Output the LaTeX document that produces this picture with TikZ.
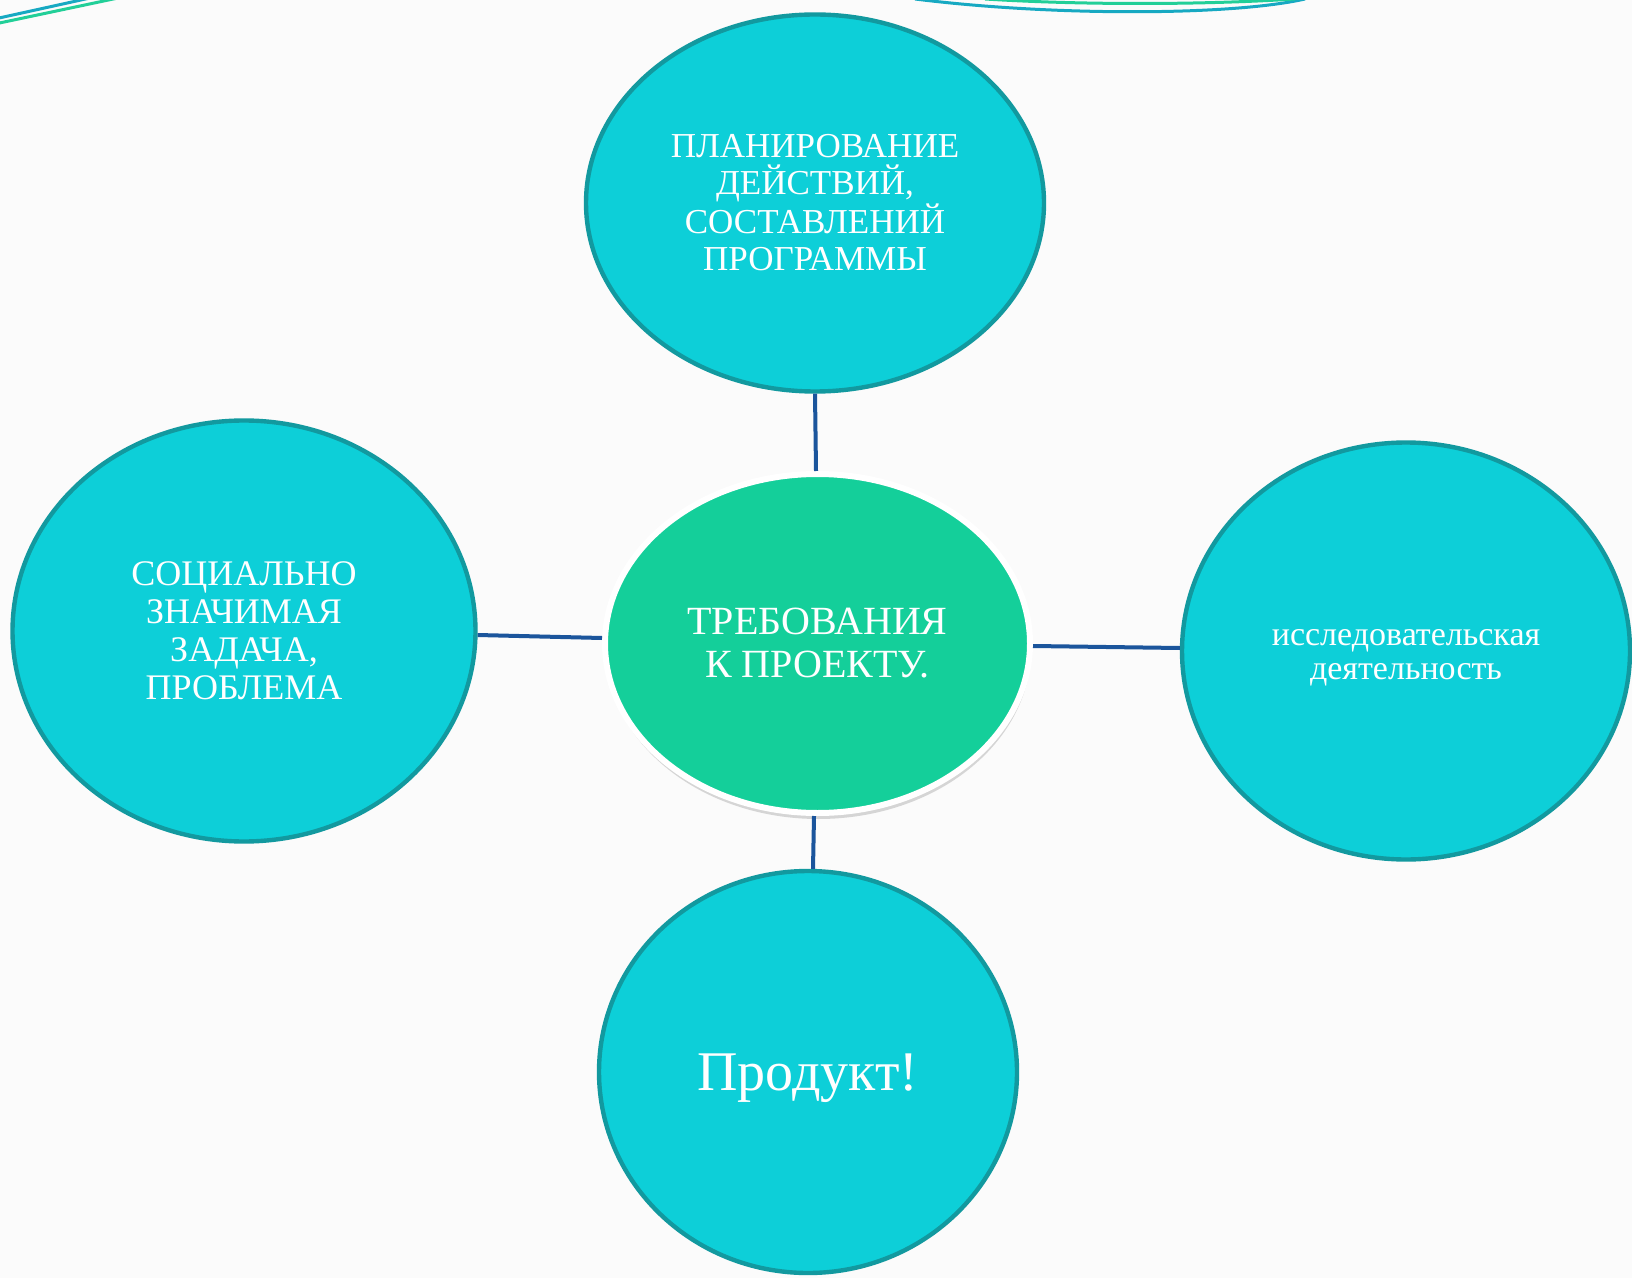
\documentclass[tikz,border=0pt]{standalone}
\usepackage{fontspec}
\setmainfont{Liberation Serif}
\usetikzlibrary{shapes.geometric,shadows}
\definecolor{bubble}{HTML}{0DCFD8}
\definecolor{bubbleedge}{HTML}{12999F}
\definecolor{hubfill}{HTML}{14CF9A}
\definecolor{linkblue}{HTML}{1B559C}
\definecolor{decoteal}{HTML}{17A9C2}
\definecolor{decogreen}{HTML}{22CF98}
\definecolor{paper}{HTML}{FBFBFB}
\begin{document}
\begin{tikzpicture}[x=0.5pt,y=-0.5pt,
  bubblenode/.style={ellipse, draw=bubbleedge, line width=2.2pt, fill=bubble,
    text=white, align=center, inner sep=0pt},
  hubnode/.style={ellipse, draw=white, line width=3pt, fill=hubfill,
    text=white, align=center, inner sep=0pt,
    drop shadow={shadow xshift=0.5pt, shadow yshift=-3pt, fill=black!50, opacity=0.3}},
  linkline/.style={draw=linkblue, line width=2pt},
  decoline/.style={line width=1.5pt}]
\useasboundingbox (0,0) rectangle (1632,1278);
\fill[paper] (0,0) rectangle (1632,1278);
\begin{scope}
\clip (0,0) rectangle (1632,1278);
% decorative lines
\draw[decoline, draw=decoteal] (-10,20) -- (90,-2);
\draw[decoline, draw=decogreen] (-10,25) -- (118,-2);
\draw[decoline, draw=decoteal] (915,-1) .. controls (1050,16) and (1230,16) .. (1305,-1);
\draw[decoline, draw=decogreen] (985,-1) .. controls (1080,5) and (1200,5) .. (1295,-1);
% nodes
\node[bubblenode, minimum width=229pt, minimum height=188.5pt,
  font=\fontsize{17.5pt}{18.5pt}\selectfont] (plan) at (815,203)
  {ПЛАНИРОВАНИЕ\\ДЕЙСТВИЙ,\\СОСТАВЛЕНИЙ\\ПРОГРАММЫ};
\node[bubblenode, minimum width=231.5pt, minimum height=210.5pt,
  font=\fontsize{18pt}{19pt}\selectfont] (social) at (244,631)
  {СОЦИАЛЬНО\\ЗНАЧИМАЯ\\ЗАДАЧА,\\ПРОБЛЕМА};
\node[bubblenode, minimum width=224pt, minimum height=208.5pt,
  font=\fontsize{17pt}{17pt}\selectfont] (research) at (1406,651)
  {\rule{0pt}{15pt}исследовательская\\деятельность};
\node[bubblenode, minimum width=209pt, minimum height=201pt,
  font=\fontsize{28pt}{30pt}\selectfont] (product) at (808,1072)
  {\rule{0pt}{24.5pt}Продукт!};
\node[hubnode, minimum width=212.5pt, minimum height=169.5pt,
  font=\fontsize{20pt}{21.5pt}\selectfont] (hub) at (817.5,643.5)
  {ТРЕБОВАНИЯ\\К ПРОЕКТУ.};
% connectors
\draw[linkline] (plan.south) -- ([xshift=-0.75pt]hub.north);
\draw[linkline] ([yshift=-2pt]social.east) -- ([yshift=2.75pt]hub.west);
\draw[linkline] ([yshift=-1.25pt]hub.east) -- ([yshift=1.5pt]research.west);
\draw[linkline] ([xshift=-1.75pt]hub.south) -- ([xshift=2.5pt]product.north);
\end{scope}
\end{tikzpicture}
\end{document}
